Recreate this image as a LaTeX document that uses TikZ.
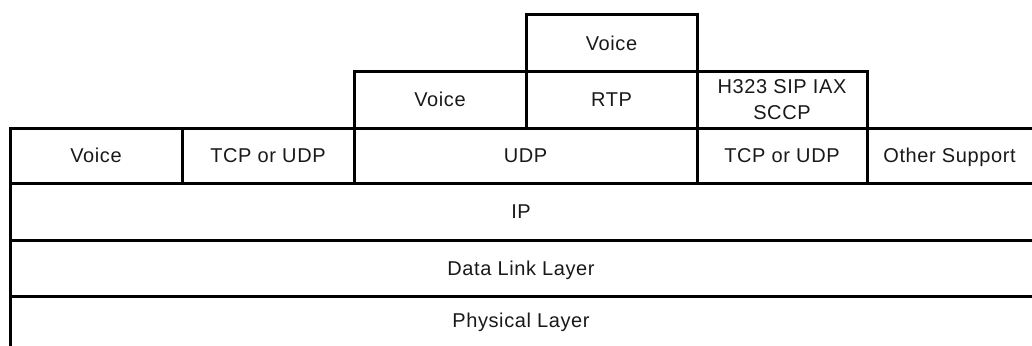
\documentclass[tikz,border=0pt]{standalone}
\usepackage{fontspec}
\setmainfont[LetterSpace=3]{Liberation Sans}
\usetikzlibrary{positioning,calc}
\tikzset{
    layerLine/.style={
    ,   line width=3pt
    ,   draw=black
    ,   line cap=rect
    },
    layerLabel/.style={
    ,   inner sep=0pt
    ,   align=center
    ,   text=black!90
    ,   font={\fontsize{20}{26}\selectfont}
    },
    layerText/.style={ % one line, centred on its capitals
    ,   layerLabel
    ,   text height=14pt
    ,   text depth=0pt
    },
}

\begin{document}
\begin{tikzpicture}[x=1pt,y=-1pt]
\useasboundingbox (0,0) rectangle (1032,345);

% full width layers
\foreach \y in {128,183,240,296}{
  \draw[layerLine] (10,\y) -- (1032,\y);
}
\draw[layerLine] (10,128) -- (10,345); % left border

% upper steps
\draw[layerLine] (354,71) -- (867,71);
\draw[layerLine] (526,15) -- (697,15);
\draw[layerLine] (182,128) -- (182,183);
\draw[layerLine] (354,71) -- (354,183);
\draw[layerLine] (526,15) -- (526,128);
\draw[layerLine] (697,15) -- (697,183);
\draw[layerLine] (867,71) -- (867,183);

% top row
\node[layerText] (voiceTop) at (611.5,43) {Voice};

% second row
\node[layerText] (voiceMid) at (440,99.5) {Voice};
\node[layerText] (rtp) at (611.5,99.5) {RTP};
\node[layerLabel] (signal) at (782,100) {H323 SIP IAX\\SCCP};

% transport row
\node[layerText] (voiceLow) at (96,155.5) {Voice};
\node[layerText] (tcpLeft) at (268,155.5) {TCP or UDP};
\node[layerText] (udp) at (525.5,155.5) {UDP};
\node[layerText] (tcpRight) at (782,155.5) {TCP or UDP};
\node[layerText] (other) at (949.5,155.5) {Other Support};

% lower layers
\node[layerText] (ip) at (521,211.5) {IP};
\node[layerText] (dataLink) at (521,268) {Data Link Layer};
\node[layerText] (physical) at (521,320.5) {Physical Layer};
\end{tikzpicture}
\end{document}
